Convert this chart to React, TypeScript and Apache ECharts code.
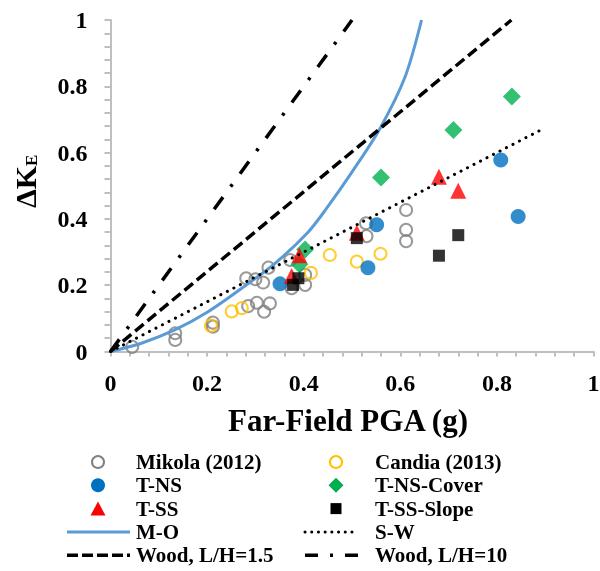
import React, { useEffect, useRef } from "react";
import * as echarts from "echarts";

// Far-field PGA (g) vs. seismic earth pressure increment ΔK_E
const mikola2012 = [
  [0.045, 0.014], [0.134, 0.055], [0.134, 0.035], [0.212, 0.087], [0.212, 0.075],
  [0.285, 0.137], [0.303, 0.147], [0.318, 0.120], [0.330, 0.145], [0.281, 0.221],
  [0.300, 0.218], [0.316, 0.208], [0.327, 0.253], [0.375, 0.191], [0.372, 0.276],
  [0.403, 0.201], [0.403, 0.231], [0.529, 0.387], [0.530, 0.348], [0.612, 0.427],
  [0.612, 0.367], [0.612, 0.333],
];
const candia2013 = [
  [0.208, 0.078], [0.251, 0.121], [0.272, 0.131], [0.415, 0.237], [0.454, 0.291],
  [0.510, 0.271], [0.559, 0.295],
];
const tNS = [[0.351, 0.204], [0.551, 0.382], [0.533, 0.253], [0.808, 0.578], [0.844, 0.407]];
const tNSCover = [[0.403, 0.308], [0.391, 0.263], [0.560, 0.525], [0.710, 0.668], [0.831, 0.769]];
const tSS = [[0.391, 0.290], [0.375, 0.228], [0.510, 0.358], [0.680, 0.527], [0.720, 0.485]];
const tSSSlope = [[0.389, 0.221], [0.378, 0.201], [0.510, 0.342], [0.680, 0.289], [0.720, 0.351]];

const mononobeOkabe = [
  [0, 0], [0.064, 0.025], [0.133, 0.065], [0.202, 0.12], [0.271, 0.19], [0.34, 0.265],
  [0.409, 0.36], [0.445, 0.427], [0.503, 0.548], [0.558, 0.673], [0.61, 0.829], [0.644, 1.0],
];
const seedWhitman = [[0, 0], [0.9, 0.675]];
const wood15 = [[0, 0], [0.83, 1]];
const wood10 = [[0, 0], [0.5, 1]];

const xTicks = { min: 0, max: 1, interval: 0.2 };
const yTicks = { min: 0, max: 1, interval: 0.2 };

// legend columns, top to bottom
const legendLeftNames = ["Mikola (2012)", "T-NS", "T-SS", "M-O", "Wood, L/H=1.5"];
const legendRightNames = ["Candia (2013)", "T-NS-Cover", "T-SS-Slope", "S-W", "Wood, L/H=10"];

const FONT = "'Liberation Serif', 'Times New Roman', serif";
const AXIS_GRAY = "#bfbfbf";
const GRAY = "#808080";
const ORANGE = "#FFC000";
const BLUE = "#0070C0";
const GREEN = "#00B050";
const RED = "#FF0000";
const MO_BLUE = "#5B9BD5";

const lineStyles: Record<string, any> = {
  "M-O": { stroke: MO_BLUE, lineWidth: 3 },
  "S-W": { stroke: "#000", lineWidth: 3, lineDash: [0.1, 6.6], lineCap: "round" },
  "Wood, L/H=1.5": { stroke: "#000", lineWidth: 3.5, lineDash: [11, 4] },
  "Wood, L/H=10": { stroke: "#000", lineWidth: 3.5, lineDash: [13, 12, 3, 12] },
};

function legendIcon(name: string, cx: number, cy: number, x0: number, x1: number): any {
  if (lineStyles[name]) {
    return { type: "line", shape: { x1: x0, y1: cy, x2: x1, y2: cy }, style: { ...lineStyles[name], fill: null } };
  }
  switch (name) {
    case "Mikola (2012)":
      return { type: "circle", shape: { cx, cy, r: 6 }, style: { fill: "#fff", stroke: GRAY, lineWidth: 2 } };
    case "Candia (2013)":
      return { type: "circle", shape: { cx, cy, r: 6 }, style: { fill: "#fff", stroke: ORANGE, lineWidth: 2 } };
    case "T-NS":
      return { type: "circle", shape: { cx, cy, r: 7 }, style: { fill: BLUE } };
    case "T-NS-Cover":
      return {
        type: "polygon",
        shape: { points: [[cx, cy - 7.5], [cx + 7.5, cy], [cx, cy + 7.5], [cx - 7.5, cy]] },
        style: { fill: GREEN },
      };
    case "T-SS":
      return {
        type: "polygon",
        shape: { points: [[cx, cy - 7], [cx + 7.5, cy + 7], [cx - 7.5, cy + 7]] },
        style: { fill: RED },
      };
    default:
      return { type: "rect", shape: { x: cx - 5.5, y: cy - 5.5, width: 11, height: 11 }, style: { fill: "#000" } };
  }
}

function legendColumn(names: string[], iconCx: number, lineX0: number, lineX1: number, textX: number): any[] {
  const rowTop = 462;
  const rowStep = 23.3;
  const out: any[] = [];
  names.forEach((name, i) => {
    const cy = rowTop + i * rowStep;
    out.push(legendIcon(name, iconCx, cy, lineX0, lineX1));
    out.push({
      type: "text",
      x: textX,
      y: cy,
      style: {
        text: name,
        fontFamily: FONT,
        fontWeight: "bold",
        fontSize: 21,
        fill: "#000",
        align: "left",
        verticalAlign: "middle",
      },
    });
  });
  return out;
}

export default function App() {
  const ref = useRef<HTMLDivElement>(null);

  useEffect(() => {
    if (!ref.current) return;
    const chart = echarts.init(ref.current, null, { renderer: "svg" });

    const openCircle = (name: string, data: number[][], color: string) => ({
      name,
      type: "scatter",
      data,
      symbol: "circle",
      symbolSize: 12,
      itemStyle: { color: "rgba(255,255,255,0)", borderColor: color, borderWidth: 2 },
    });
    const filled = (name: string, data: number[][], color: string, symbol: string, size: number) => ({
      name,
      type: "scatter",
      data,
      symbol,
      symbolSize: size,
      itemStyle: { color },
    });
    const curve = (name: string, data: number[][], lineStyle: any, smooth: any = false) => ({
      name,
      type: "line",
      data,
      smooth,
      symbol: "none",
      showSymbol: false,
      lineStyle,
      itemStyle: { color: lineStyle.color },
    });

    chart.setOption({
      animation: false,
      grid: { left: 110.5, right: 6.5, top: 20, bottom: 219.5, outerBoundsMode: "none", containLabel: false },
      xAxis: {
        type: "value",
        ...xTicks,
        axisLine: { show: true, lineStyle: { color: AXIS_GRAY, width: 2 } },
        axisTick: { show: true, length: 5, lineStyle: { color: AXIS_GRAY, width: 2 } },
        minorTick: { show: true, splitNumber: 5, length: 5, lineStyle: { color: AXIS_GRAY, width: 2 } },
        splitLine: { show: false },
        axisLabel: { margin: 19, fontFamily: FONT, fontWeight: "bold", fontSize: 24, color: "#000" },
      },
      yAxis: {
        type: "value",
        ...yTicks,
        axisLine: { show: true, lineStyle: { color: AXIS_GRAY, width: 2 } },
        axisTick: { show: true, length: 6, lineStyle: { color: AXIS_GRAY, width: 2 } },
        minorTick: { show: true, splitNumber: 5, length: 6, lineStyle: { color: AXIS_GRAY, width: 2 } },
        splitLine: { show: false },
        axisLabel: { margin: 23, fontFamily: FONT, fontWeight: "bold", fontSize: 24, color: "#000" },
      },
      graphic: [
        {
          type: "text",
          x: 348,
          y: 420,
          style: {
            text: "Far-Field PGA (g)",
            fontFamily: FONT,
            fontWeight: "bold",
            fontSize: 31,
            fill: "#000",
            align: "center",
            verticalAlign: "middle",
          },
        },
        {
          type: "text",
          x: 25,
          y: 208,
          rotation: Math.PI / 2,
          style: {
            text: "ΔK",
            fontFamily: FONT,
            fontWeight: "bold",
            fontSize: 30,
            fill: "#000",
            align: "left",
            verticalAlign: "middle",
          },
        },
        {
          type: "text",
          x: 31,
          y: 166,
          rotation: Math.PI / 2,
          style: {
            text: "E",
            fontFamily: FONT,
            fontWeight: "bold",
            fontSize: 17,
            fill: "#000",
            align: "left",
            verticalAlign: "middle",
          },
        },
        ...legendColumn(legendLeftNames, 98, 67, 130, 136),
        ...legendColumn(legendRightNames, 336, 305, 358, 375),
      ],
      series: [
        openCircle("Mikola (2012)", mikola2012, GRAY),
        openCircle("Candia (2013)", candia2013, ORANGE),
        filled("T-NS", tNS, BLUE, "circle", 15),
        filled("T-NS-Cover", tNSCover, GREEN, "diamond", 18),
        filled("T-SS", tSS, RED, "triangle", 16),
        filled("T-SS-Slope", tSSSlope, "#000000", "rect", 12),
        curve("M-O", mononobeOkabe, { color: MO_BLUE, width: 3, type: "solid" }, 0.3),
        curve("S-W", seedWhitman, { color: "#000", width: 3, type: [0.1, 7.2], cap: "round" }),
        curve("Wood, L/H=1.5", wood15, { color: "#000", width: 3.5, type: [11, 5] }),
        curve("Wood, L/H=10", wood10, { color: "#000", width: 3.5, type: [15, 13, 3, 13] }),
      ],
    });

    return () => chart.dispose();
  }, []);

  return <div ref={ref} style={{ position: "fixed", left: 0, top: 0, width: 600, height: 571 }} />;
}
